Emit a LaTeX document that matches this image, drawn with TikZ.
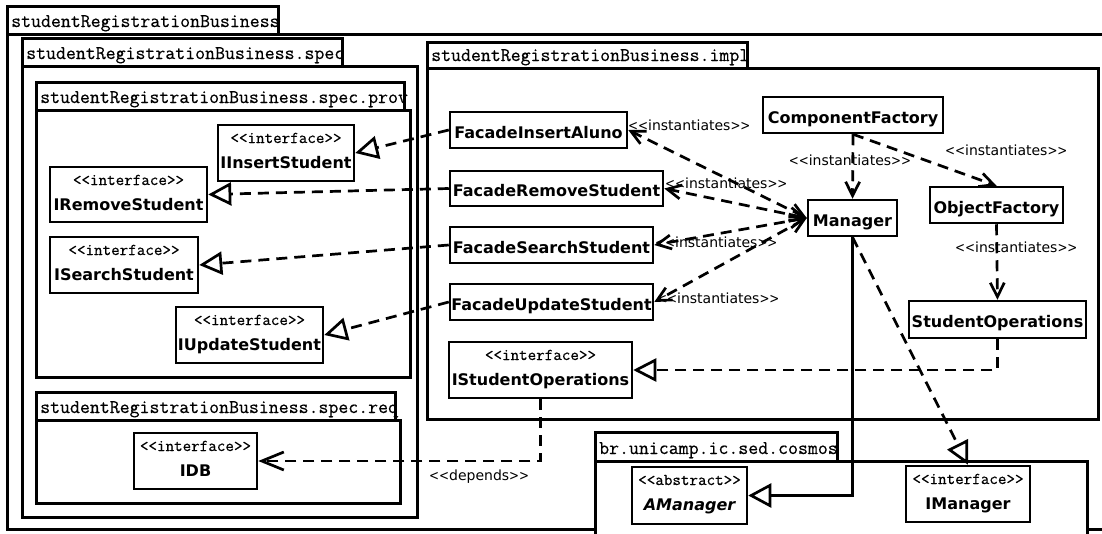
\documentclass[tikz,border=0pt]{standalone}
\usepackage{fontspec}
\usepackage{graphicx}
\usetikzlibrary{arrows.meta}
\newfontfamily\dvsans{DejaVu Sans}
\newfontfamily\monotxt{Latin Modern Mono}[FakeBold=0.5]
% narrow angle brackets for the stereotype labels on connectors
\newcommand\nchev[1]{\scalebox{0.85}[1]{#1}}
\newcommand\stereolab[1]{\nchev{<}\nchev{<}#1\nchev{>}\nchev{>}}
% stereotype text inside class boxes (kerns keep << and >> as plain signs)
\newcommand\stereotag[1]{<\kern0pt<#1>\kern0pt>}

\begin{document}
\begin{tikzpicture}[x=1pt,y=-1pt,
  pkg/.style={draw, line width=3pt, fill=white},
  tabtxt/.style={anchor=base west, inner sep=0pt, font=\fontsize{19.3}{20}\selectfont\monotxt},
  cbox/.style={draw, line width=2.5pt, fill=white, inner sep=0pt, text height=16pt, text depth=0pt,
    font=\fontsize{16}{18}\selectfont\dvsans\bfseries},
  ibox/.style={draw, line width=2.5pt, fill=white, inner sep=0pt},
  stxt/.style={anchor=base, inner sep=0pt, font=\fontsize{16.6}{18}\selectfont\monotxt},
  ntxt/.style={anchor=base, inner sep=0pt, font=\fontsize{16}{18}\selectfont\dvsans\bfseries},
  lab/.style={inner sep=0pt, font=\fontsize{14}{16}\selectfont\dvsans},
  conn/.style={line width=2.7pt},
  dsh/.style={conn, dash pattern=on 11pt off 7pt},
  realize/.style={dsh, -{Triangle[open, length=23pt, width=23pt]}},
  depend/.style={dsh, -{Straight Barb[length=14pt, width=14pt]}},
  bigdepend/.style={dsh, -{Straight Barb[length=22pt, width=18pt]}},
  inst/.style={dsh, {Straight Barb[length=14pt, width=14pt]}-{Straight Barb[length=14pt, width=14pt]}},
  gen/.style={conn, -{Triangle[open, length=23pt, width=24pt]}}
]
\path[use as bounding box] (0,0) rectangle (1102,533);
\fill[white] (0,0) rectangle (1102,533);
\clip (0,0) rectangle (1102,533);

% ---- packages ----
\draw[pkg] (7,34) rectangle (1120,529);
\draw[pkg] (7,6) rectangle (278,34);
\node[tabtxt] (tabTop) at (11,27) {studentRegistrationBusiness};

\draw[pkg] (22,66) rectangle (417,517);
\draw[pkg] (22,38) rectangle (342,66);
\node[tabtxt] (tabSpec) at (26,59) {studentRegistrationBusiness.spec};

\draw[pkg] (36,110) rectangle (410,377);
\draw[pkg] (36,82) rectangle (404,110);
\node[tabtxt] (tabProv) at (40,103) {studentRegistrationBusiness.spec.prov};

\draw[pkg] (36,420) rectangle (400,503);
\draw[pkg] (36,392) rectangle (395,420);
\node[tabtxt] (tabReq) at (40,413) {studentRegistrationBusiness.spec.req};

\draw[pkg] (427,68) rectangle (1098,419);
\draw[pkg] (427,42) rectangle (747,68);
\node[tabtxt] (tabImpl) at (431,61) {studentRegistrationBusiness.impl};

\draw[pkg] (595,461) rectangle (1087,560);
\draw[pkg] (595,432) rectangle (837,461);
\node[tabtxt] (tabCosmos) at (599,454) {br.unicamp.ic.sed.cosmos};

% ---- interfaces ----
\node[ibox, minimum width=136, minimum height=56] (IInsert) at (286,153) {};
\node[stxt] (IInsertS) at (286,143) {\stereotag{interface}};
\node[ntxt] (IInsertN) at (286,168) {IInsertStudent};

\node[ibox, minimum width=157, minimum height=55] (IRemove) at (128.5,194.5) {};
\node[stxt] (IRemoveS) at (128.5,185) {\stereotag{interface}};
\node[ntxt] (IRemoveN) at (128.5,210) {IRemoveStudent};

\node[ibox, minimum width=148, minimum height=56] (ISearch) at (124,265) {};
\node[stxt] (ISearchS) at (124,255) {\stereotag{interface}};
\node[ntxt] (ISearchN) at (124,280) {ISearchStudent};

\node[ibox, minimum width=147, minimum height=56] (IUpdate) at (249.5,335) {};
\node[stxt] (IUpdateS) at (249.5,325) {\stereotag{interface}};
\node[ntxt] (IUpdateN) at (249.5,350) {IUpdateStudent};

\node[ibox, minimum width=123, minimum height=56] (IDB) at (195.5,461) {};
\node[stxt] (IDBS) at (195.5,451) {\stereotag{interface}};
\node[ntxt] (IDBN) at (195.5,476) {IDB};

\node[ibox, minimum width=183, minimum height=56] (ISO) at (540.5,370) {};
\node[stxt] (ISOS) at (540.5,360) {\stereotag{interface}};
\node[ntxt] (ISON) at (540.5,385) {IStudentOperations};

\node[ibox, minimum width=115, minimum height=57] (AMgr) at (689.5,495.5) {};
\node[stxt] (AMgrS) at (689.5,485) {\stereotag{abstract}};
\node[ntxt] (AMgrN) at (689.5,510) {\itshape AManager};

\node[ibox, minimum width=124, minimum height=56] (IMgr) at (968,494) {};
\node[stxt] (IMgrS) at (968,484) {\stereotag{interface}};
\node[ntxt] (IMgrN) at (968,509) {IManager};

% ---- classes ----
\node[cbox, minimum width=177, minimum height=36] (FIA) at (538.5,130) {FacadeInsertAluno};
\node[cbox, minimum width=213, minimum height=35] (FRS) at (556.5,188.5) {FacadeRemoveStudent};
\node[cbox, minimum width=203, minimum height=36] (FSS) at (551.5,245) {FacadeSearchStudent};
\node[cbox, minimum width=203, minimum height=36] (FUS) at (551.5,302) {FacadeUpdateStudent};
\node[cbox, minimum width=180, minimum height=36] (CF) at (853,115) {ComponentFactory};
\node[cbox, minimum width=89, minimum height=36] (Mgr) at (852.5,218) {Manager};
\node[cbox, minimum width=133, minimum height=36] (OF) at (996.5,205) {ObjectFactory};
\node[cbox, minimum width=177, minimum height=37] (SO) at (997.5,319.5) {StudentOperations};

% ---- connectors ----
\draw[realize] (FIA.west) -- (IInsert.east);
\draw[realize] (FRS.west) -- (IRemove.east);
\draw[realize] (FSS.west) -- (ISearch.east);
\draw[realize] (FUS.west) -- (IUpdate.east);

\draw[inst] (Mgr.west) -- (FIA.east);
\draw[inst] (Mgr.west) -- (FRS.east);
\draw[inst] (Mgr.west) -- (FSS.east);
\draw[inst] (Mgr.west) -- (FUS.east);

\draw[depend] (CF.south) -- (Mgr.north);
\draw[depend] (CF.south) -- (OF.north);
\draw[depend] (OF.south) -- (SO.north);

\draw[realize] (SO.south) |- (ISO.east);
\draw[bigdepend] (ISO.south) |- (IDB.east);

\draw[gen] (Mgr.south) |- (AMgr.east);
\draw[realize] (Mgr.south) -- (IMgr.north);

% ---- connector labels ----
\node[lab, anchor=base west] (lFIA) at (628,130.5) {\stereolab{instantiates}};
\node[lab, anchor=base west] (lFRS) at (665,188) {\stereolab{instantiates}};
\node[lab, anchor=base west] (lFSS) at (655,247) {\stereolab{instantiates}};
\node[lab, anchor=base west] (lFUS) at (657,303) {\stereolab{instantiates}};
\node[lab, anchor=base] (lMgr) at (850,165) {\stereolab{instantiates}};
\node[lab, anchor=base west] (lOF) at (945,155) {\stereolab{instantiates}};
\node[lab, anchor=base west] (lSO) at (955,252) {\stereolab{instantiates}};
\node[lab, anchor=base west] (lDep) at (429,480) {\stereolab{depends}};
\end{tikzpicture}
\end{document}
